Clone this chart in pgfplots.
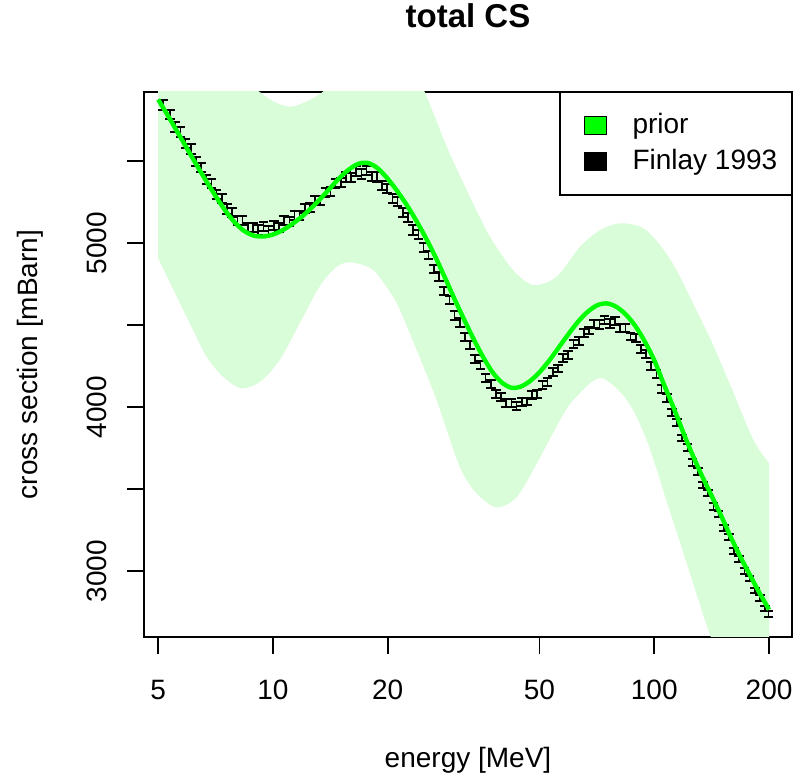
\documentclass[border=0pt]{standalone}
\usepackage{fontspec}
\setmainfont{Liberation Sans}
\usepackage{pgfplots}
\usepackage{pgfplotstable}
\pgfplotsset{compat=1.18}
\usepgfplotslibrary{fillbetween}
\definecolor{bandgreen}{RGB}{217,252,217}
\pgfplotsset{
  greensq/.style={legend image code/.code={%
    \path[draw=none,fill=none] (-5pt,0pt) -- (0pt,0pt);%
    \draw[black,line width=0.5pt,fill=green] (0pt,-4.5pt) rectangle (11pt,4.5pt);}},
  blacksq/.style={legend image code/.code={%
    \path[draw=none,fill=none] (-5pt,0pt) -- (0pt,0pt);%
    \draw[black,line width=0.5pt,fill=black] (0pt,-4.5pt) rectangle (11pt,4.5pt);}},
}

\pgfplotstableread{
E y
5.0 5875
5.309 5775
5.623 5675
5.957 5575
6.310 5475
6.683 5378
7.079 5285
7.499 5198
7.943 5125
8.414 5073
8.913 5045
9.441 5040
10.0 5052
10.59 5078
11.22 5115
11.89 5160
12.59 5212
13.34 5272
14.13 5335
14.96 5398
15.85 5450
16.79 5484
17.78 5488
18.84 5455
19.95 5395
21.13 5320
22.39 5235
23.71 5140
25.12 5035
26.61 4920
28.18 4795
29.85 4665
31.62 4540
33.50 4420
35.48 4310
37.58 4215
39.81 4150
42.17 4118
44.67 4125
47.32 4160
50.12 4215
53.09 4285
56.23 4365
59.57 4445
63.10 4520
66.83 4580
70.79 4620
74.99 4632
79.43 4612
84.14 4565
89.13 4495
94.41 4400
100.0 4285
105.9 4140
112.2 4000
118.9 3850
125.9 3710
133.4 3580
141.3 3460
149.6 3340
158.5 3210
167.9 3090
177.8 2980
188.4 2870
200.0 2765
}\priortab

\pgfplotstableread{
E y
5.0 6850
5.623 6550
6.310 6300
7.079 6120
7.943 6010
8.913 5945
9.23 5921
10.0 5865
11.07 5831
12.30 5865
13.49 5921
15.14 6040
17.78 6180
20.89 6180
22.91 6080
25.0 5921
28.58 5587
32.21 5323
37.07 5039
42.66 4835
48.19 4744
55.46 4795
63.83 4977
72.11 5079
81.28 5120
91.83 5100
100.0 5030
112.2 4870
125.9 4640
141.3 4400
158.5 4130
182.0 3799
200.0 3658
}\upperband

\pgfplotstableread{
E y
5.0 4907
6.053 4510
6.699 4307
7.396 4185
8.260 4114
9.247 4154
10.42 4287
11.75 4510
13.24 4734
14.69 4855
16.07 4882
18.32 4835
20.65 4673
21.53 4591
23.99 4330
26.85 4043
30.90 3636
34.20 3474
38.64 3388
43.65 3453
49.20 3657
56.62 3921
61.38 4043
72.11 4177
84.72 4043
95.50 3799
107.7 3427
121.6 3048
140.3 2605
158.5 2300
177.8 2000
200.0 1720
}\lowerband

\pgfplotstableread{
E y err
5.15 5843 30
5.37 5784 30
5.54 5710 30
5.72 5676 30
5.9 5607 30
6.09 5571 30
6.28 5496 28
6.48 5460 28
6.69 5389 28
6.9 5364 28
7.12 5298 28
7.35 5274 28
7.58 5208 28
7.82 5187 28
8.07 5136 28
8.33 5135 28
8.6 5093 28
8.87 5097 28
9.15 5079 28
9.44 5100 28
9.74 5078 28
10.05 5105 28
10.37 5096 28
10.7 5139 28
11.04 5131 28
11.39 5167 28
11.75 5167 28
12.12 5212 28
12.5 5216 28
12.9 5261 28
13.3 5260 28
13.72 5307 28
14.15 5316 28
14.6 5363 28
15.06 5367 28
15.54 5403 28
16.03 5399 28
16.54 5439 28
17.06 5421 28
17.6 5440 28
18.16 5408 28
18.74 5403 28
19.34 5349 28
19.95 5333 28
20.58 5274 28
21.23 5252 28
21.9 5186 28
22.6 5154 28
23.32 5079 28
24.06 5050 28
24.82 4972 26
25.61 4926 26
26.42 4841 26
27.26 4797 26
28.13 4707 26
29.02 4653 26
29.94 4559 26
30.89 4516 26
31.87 4428 24
32.88 4377 24
33.92 4293 24
35.0 4254 24
36.1 4178 24
37.25 4143 24
38.43 4080 24
39.65 4062 24
40.9 4026 24
42.2 4027 24
43.54 4006 24
44.92 4031 24
46.35 4034 24
47.82 4074 24
49.33 4081 24
50.9 4134 24
52.5 4153 24
54.2 4215 24
55.9 4235 24
57.7 4298 24
59.5 4320 24
61.4 4383 24
63.4 4402 24
65.4 4454 24
67.5 4467 24
69.6 4505 26
71.8 4503 26
74.1 4531 26
76.5 4511 26
78.9 4524 26
81.4 4482 24
84.0 4480 24
86.7 4430 24
89.4 4420 24
92.3 4352 24
95.2 4321 24
98.2 4249 24
101.3 4204 24
104.5 4109 24
107.8 4053 24
111.2 3966 21
114.8 3906 21
118.4 3811 21
122.2 3752 21
126.1 3661 21
130.1 3609 21
134.2 3525 21
138.5 3477 19
142.9 3394 19
147.4 3346 19
152.1 3264 19
157.0 3206 19
162.0 3124 19
167.1 3074 19
172.4 3002 19
177.9 2954 17
183.6 2882 17
189.4 2836 17
195.4 2771 17
199.5 2739 17
}\finlaytab

\begin{document}
\begin{tikzpicture}
\begin{axis}[
  at={(0pt,0pt)}, anchor=south west,
  scale only axis, width=324pt, height=272.5pt,
  xmode=log, xmin=4.59, xmax=229.7, ymin=2598, ymax=5921,
  xtick={5,10,20,50,100,200}, xticklabels={5,10,20,50,100,200},
  xminorticks=false,
  ytick={3000,3500,4000,4500,5000,5500}, yticklabels={3000,,4000,,5000,},
  tick pos=left, tick align=outside, major tick length=8.4pt,
  axis line style={line width=0.8pt, black},
  every tick/.style={black, line width=0.8pt},
  tick label style={font=\fontsize{14}{16.8}\selectfont},
  xticklabel style={anchor=center, yshift=-18.1pt},
  yticklabel style={xshift=-15.1pt, rotate=90, anchor=center},
  label style={font=\fontsize{14}{16.8}\selectfont},
  xlabel={energy [MeV]},
  ylabel={cross section [mBarn]},
  xlabel style={at={(axis description cs:0.5,-0.2257)}, anchor=center},
  ylabel style={at={(axis description cs:-0.1759,0.5)}, anchor=center},
  title={total CS},
  title style={at={(axis description cs:0.5,1.1174)}, anchor=center, yshift=0pt, font=\bfseries\fontsize{16.5}{19.8}\selectfont},
  legend cell align=left,
  legend style={at={(1,1)}, anchor=north east, draw=black, line width=0.7pt, fill=white,
    inner xsep=7pt, inner ysep=10pt, row sep=4.9pt, column sep=13pt,
    font=\fontsize{14}{16.8}\selectfont,
    nodes={inner sep=0pt, text height=10.2pt, text depth=2.9pt}},
]
\addplot[draw=none, name path=up, smooth, forget plot] table[x=E, y=y] {\upperband};
\addplot[draw=none, name path=lo, smooth, forget plot] table[x=E, y=y] {\lowerband};
\addplot[fill=bandgreen, draw=none, forget plot] fill between[of=up and lo];

\addplot[draw=none, mark=none, forget plot,
  error bars/.cd, y dir=both, y explicit,
  error bar style={draw=black, solid, line width=0.8pt},
  error mark options={draw=black, solid, line width=1pt, mark size=2.4pt, rotate=90}]
  table[x=E, y=y, y error=err] {\finlaytab};

\addplot[green, line width=2.2pt, smooth, forget plot] table[x=E, y=y] {\priortab};

\addlegendimage{greensq}
\addlegendentry{prior}
\addlegendimage{blacksq}
\addlegendentry{Finlay 1993}
\end{axis}
\pgfresetboundingbox
\path[use as bounding box] (-72pt,-69pt) rectangle (325pt,318.5pt);
\end{tikzpicture}
\end{document}
